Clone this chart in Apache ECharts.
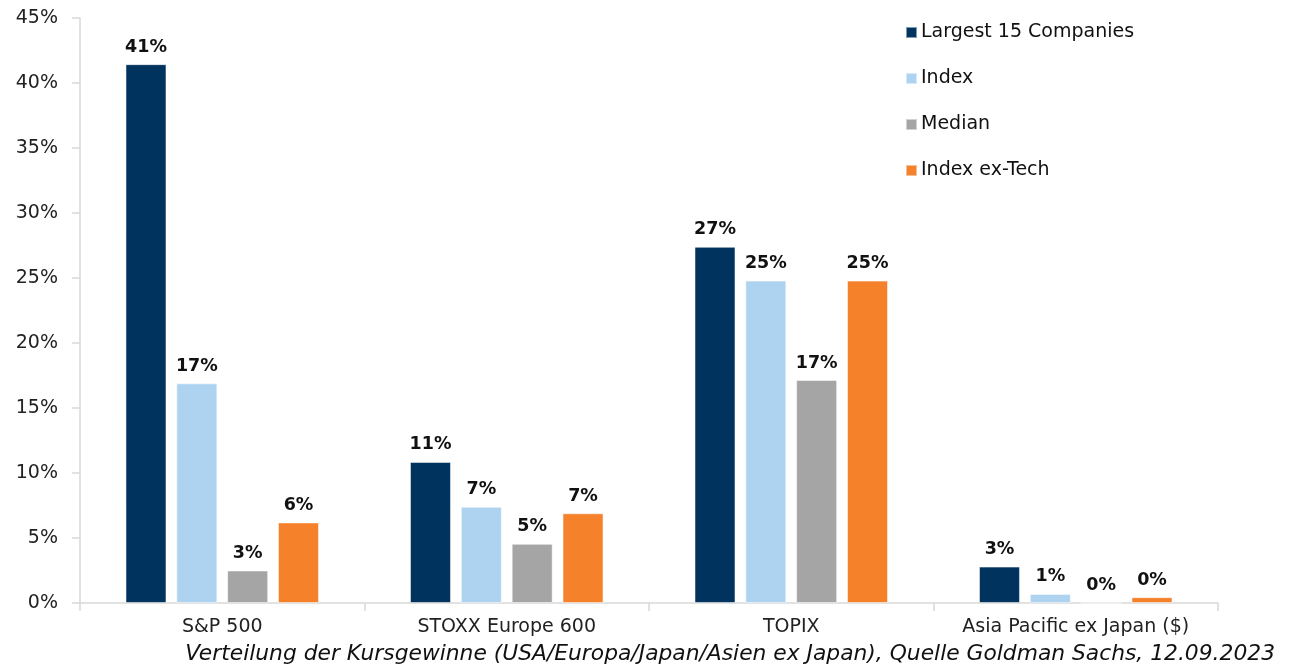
<!DOCTYPE html>
<html><head><meta charset="utf-8">
<script src="https://cdn.jsdelivr.net/npm/echarts@6/dist/echarts.min.js"></script>
<style>html,body{margin:0;padding:0;background:#fff}#c{width:1292px;height:670px}</style>
</head><body><div id="c"></div>
<script>
const categories = ['S&P 500', 'STOXX Europe 600', 'TOPIX', 'Asia Pacific ex Japan ($)'];
const seriesNames = ['Largest 15 Companies', 'Index', 'Median', 'Index ex-Tech'];
const largest15 = [41.45, 10.85, 27.4, 2.8];
const indexVals = [16.9, 7.4, 24.8, 0.7];
const medianVals = [2.5, 4.55, 17.15, 0];
const exTechVals = [6.2, 6.9, 24.8, 0.45];
const yTicks = [0, 5, 10, 15, 20, 25, 30, 35, 40, 45];
const caption = 'Verteilung der Kursgewinne (USA/Europa/Japan/Asien ex Japan), Quelle Goldman Sachs, 12.09.2023';
const colors = ['#00345e', '#aed3f0', '#a5a5a5', '#f5812a'];
const FONT = '"DejaVu Sans", Verdana, sans-serif';

const chart = echarts.init(document.getElementById('c'));
const allData = [largest15, indexVals, medianVals, exTechVals];
chart.setOption({
  animation: false,
  color: colors,
  textStyle: {fontFamily: FONT},
  grid: {left: 80, right: 74, top: 18, bottom: 67, containLabel: false},
  legend: {
    orient: 'vertical', left: 900, top: 18, itemGap: 27,
    icon: 'rect', itemWidth: 11, itemHeight: 11,
    textStyle: {fontSize: 19, color: '#111', fontFamily: FONT, padding: [0,0,0,-1]},
    data: seriesNames
  },
  xAxis: {
    type: 'category', data: categories,
    axisLine: {lineStyle: {color: '#d9d9d9', width: 1.5}},
    axisTick: {show: true, interval: 0, length: 8, lineStyle: {color: '#d9d9d9', width: 1.5}},
    axisLabel: {interval: 0, fontSize: 19, color: '#222', margin: 15, fontFamily: FONT}
  },
  yAxis: {
    type: 'value', min: yTicks[0], max: yTicks[yTicks.length-1], interval: 5,
    axisLine: {show: true, lineStyle: {color: '#d9d9d9', width: 1.5}},
    axisTick: {show: true, length: 8, lineStyle: {color: '#d9d9d9', width: 1.5}},
    splitLine: {show: false},
    axisLabel: {fontSize: 19, color: '#222', margin: 22, fontFamily: FONT, formatter: v => v + '%'}
  },
  graphic: [{
    type: 'text', right: 17, top: 643,
    style: {text: caption, font: 'italic 21.8px "DejaVu Sans", Verdana, sans-serif', fill: '#111'}
  }],
  series: allData.map((d, i) => ({
    name: seriesNames[i], type: 'bar', data: d,
    barWidth: 41, barGap: '24%',
    itemStyle: {color: colors[i], borderColor: 'rgba(255,255,255,0.5)', borderWidth: 1},
    label: {show: true, position: 'top', distance: 8, fontSize: 17.5, fontWeight: 'bold', color: '#111', fontFamily: FONT,
      formatter: p => Math.round(p.value) + '%'}
  }))
});
</script></body></html>
